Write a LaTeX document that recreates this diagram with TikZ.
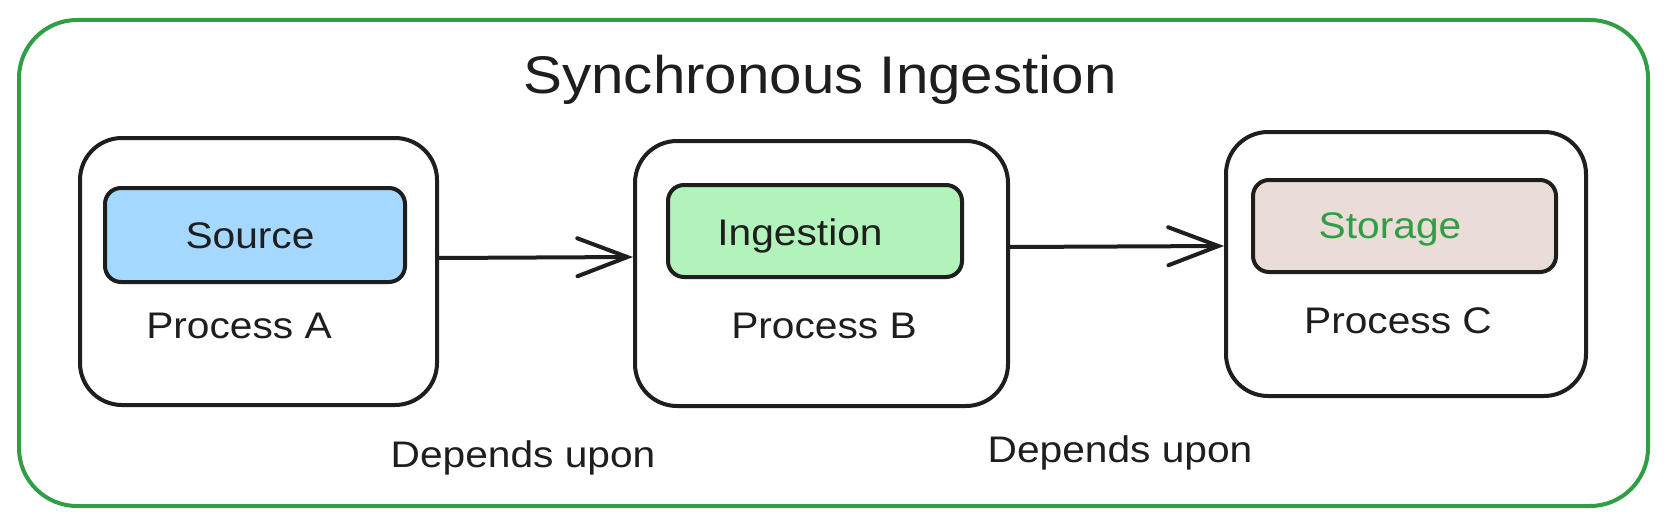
\documentclass[tikz,border=0pt]{standalone}
\usepackage{fontspec}
\setmainfont{Liberation Sans}[FakeStretch=1.1]
\usetikzlibrary{arrows.meta}
\definecolor{ink}{HTML}{1E1E1E}
\definecolor{exgreen}{HTML}{2F9E44}
\definecolor{fillblue}{HTML}{A5D8FF}
\definecolor{fillgreen}{HTML}{B2F2BB}
\definecolor{fillbrown}{HTML}{EADDD7}
\tikzset{
  frame/.style={draw=exgreen, line width=4pt, rounded corners=58pt, inner sep=0pt},
  procbox/.style={draw=ink, line width=4pt, rounded corners=42pt, inner sep=0pt, fill=white},
  innerbox/.style={draw=ink, line width=4pt, rounded corners=16pt, inner sep=0pt},
  lbl/.style={anchor=base, inner sep=0pt, text=ink, font=\fontsize{37}{40}\selectfont},
  ttl/.style={anchor=base, inner sep=0pt, text=ink, font=\fontsize{53}{60}\selectfont},
  arr/.style={draw=ink, line width=4pt, line cap=round, -{Straight Barb[length=50pt, width=38pt, line cap=round]}}
}
\begin{document}
\begin{tikzpicture}[x=1pt, y=-1pt]
\useasboundingbox (0,0) rectangle (1668,527);
\fill[white] (0,0) rectangle (1668,527);
% outer frame
\node[frame, minimum width=1629pt, minimum height=486pt] (frame) at (833.5,263) {};
\node[ttl] (title) at (820,93) {Synchronous Ingestion};
% process boxes
\node[procbox, minimum width=357pt, minimum height=267pt] (A) at (258.5,271.5) {};
\node[procbox, minimum width=373pt, minimum height=265pt] (B) at (821.5,273.5) {};
\node[procbox, minimum width=360pt, minimum height=264pt] (C) at (1406,264) {};
% inner boxes
\node[innerbox, fill=fillblue, minimum width=300pt, minimum height=94pt] (src) at (255,235) {};
\node[innerbox, fill=fillgreen, minimum width=294pt, minimum height=92pt] (ing) at (815,231) {};
\node[innerbox, fill=fillbrown, minimum width=303pt, minimum height=92pt] (sto) at (1404.5,226) {};
% labels
\node[lbl] (srcl) at (250,248) {Source};
\node[lbl] (ingl) at (800,245) {Ingestion};
\node[lbl, text=exgreen] (stol) at (1390,238) {Storage};
\node[lbl] (pa) at (239,338) {Process A};
\node[lbl] (pb) at (824,338) {Process B};
\node[lbl] (pc) at (1398,333) {Process C};
\node[lbl] (dep1) at (523,467) {Depends upon};
\node[lbl] (dep2) at (1120,462) {Depends upon};
% arrows
\coordinate (a1s) at (A.east |- 0,258);
\coordinate (a1e) at (B.west |- 0,257);
\coordinate (a2s) at (B.east |- 0,247);
\coordinate (a2e) at (C.west |- 0,246);
\draw[arr] (a1s) -- (a1e);
\draw[arr] (a2s) -- (a2e);
\end{tikzpicture}
\end{document}
